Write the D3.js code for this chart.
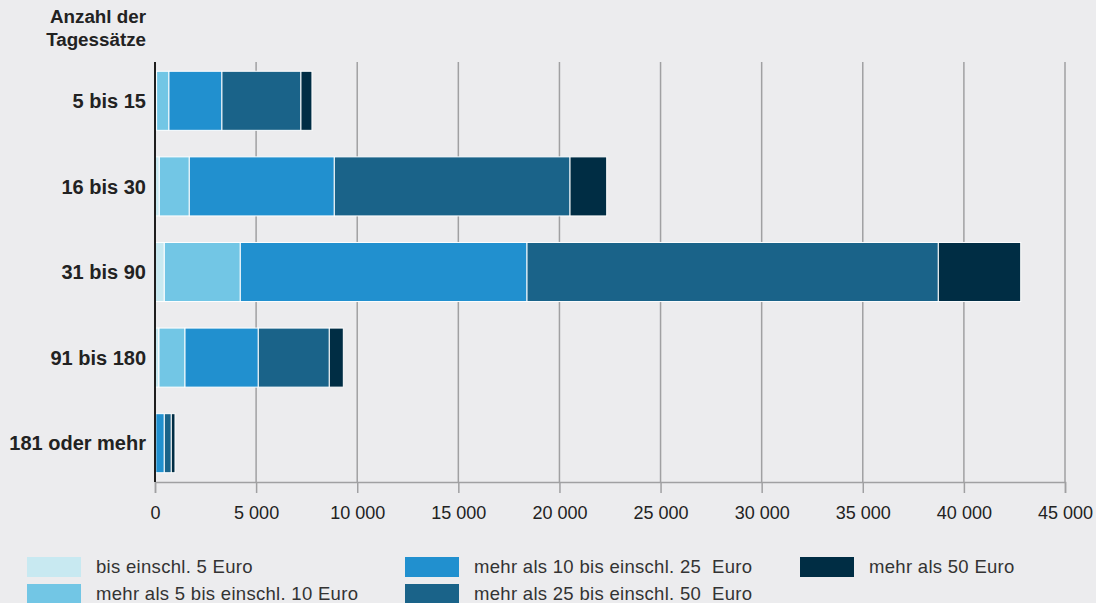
<!DOCTYPE html>
<html>
<head>
<meta charset="utf-8">
<script src="https://cdn.jsdelivr.net/npm/d3@7"></script>
<style>
  body { margin: 0; background: #ececee; }
  svg { display: block; font-family: "Liberation Sans", Arial, sans-serif; }
</style>
</head>
<body>
<div id="chart"></div>
<script>
//categories and series
var categories = ["5 bis 15", "16 bis 30", "31 bis 90", "91 bis 180", "181 oder mehr"];
var seriesNames = ["bis einschl. 5 Euro", "mehr als 5 bis einschl. 10 Euro", "mehr als 10 bis einschl. 25  Euro",
    "mehr als 25 bis einschl. 50  Euro", "mehr als 50 Euro"];
var bis5 = [80, 213, 460, 198, 10];
var bis10 = [610, 1483, 3758, 1286, 30];
var bis25 = [2620, 7171, 14178, 3624, 420];
var bis50 = [3907, 11656, 20340, 3512, 346];
var ueber50 = [544, 1814, 4074, 692, 183];
var tickValues = [0, 5000, 10000, 15000, 20000, 25000, 30000, 35000, 40000, 45000];
var colors = ["#c8e9f1", "#72c6e5", "#2190cf", "#1a6389", "#002d44"];

//svg dimensions
var svgWidth = 1096;
var svgHeight = 603;
var svg = d3.select("#chart").append("svg")
    .attr("width", svgWidth)
    .attr("height", svgHeight);

//build rows for stack
var keys = ["s0", "s1", "s2", "s3", "s4"];
var rows = categories.map(function (c, i) {
    return { cat: c, s0: bis5[i], s1: bis10[i], s2: bis25[i], s3: bis50[i], s4: ueber50[i] };
});
var stacked = d3.stack().keys(keys)(rows);

//scales
var xScale = d3.scaleLinear().domain([0, 45000]).range([155, 1065]);
var yScale = d3.scaleBand().domain(categories).range([58, 486])
    .paddingInner(0.31).paddingOuter(0.155);

//gridlines
svg.append("g").selectAll("line")
    .data(tickValues.slice(1))
    .enter()
    .append("line")
    .attr("x1", d => xScale(d))
    .attr("x2", d => xScale(d))
    .attr("y1", 62)
    .attr("y2", 482)
    .attr("stroke", "#a0a0a2")
    .attr("stroke-width", 1.5);

//bottom axis
var bottomAxis = d3.axisBottom(xScale)
    .tickValues(tickValues)
    .tickSize(11)
    .tickPadding(13)
    .tickFormat(d => d3.format(",")(d).replace(/,/g, " "));
var xAxis = svg.append("g")
    .attr("transform", "translate(0, 482)")
    .call(bottomAxis);
xAxis.select(".domain").attr("stroke", "#a0a0a2").attr("stroke-width", 1.5);
xAxis.selectAll(".tick line").attr("stroke", "#a0a0a2").attr("stroke-width", 1.5);
xAxis.selectAll(".tick text")
    .attr("fill", "#222")
    .attr("font-size", "18px")
    .attr("font-family", "Liberation Sans, Arial, sans-serif");

//bars
svg.append("g").selectAll("g")
    .data(stacked)
    .enter()
    .append("g")
    .attr("fill", (d, i) => colors[i])
    .selectAll("rect")
    .data(d => d)
    .enter()
    .append("rect")
    .attr("x", d => xScale(d[0]))
    .attr("y", d => yScale(d.data.cat))
    .attr("width", d => xScale(d[1]) - xScale(d[0]))
    .attr("height", yScale.bandwidth())
    .attr("stroke", "#ffffff")
    .attr("stroke-width", 1);

//left axis line
svg.append("line")
    .attr("x1", 155).attr("x2", 155)
    .attr("y1", 62).attr("y2", 482)
    .attr("stroke", "#1e1e1e")
    .attr("stroke-width", 2);

//category labels
svg.append("g").selectAll("text")
    .data(categories)
    .enter()
    .append("text")
    .attr("x", 146)
    .attr("y", d => yScale(d) + yScale.bandwidth() / 2)
    .attr("dy", "0.36em")
    .attr("text-anchor", "end")
    .attr("font-size", "20px")
    .attr("font-weight", "bold")
    .attr("fill", "#222")
    .text(d => d);

//header
var header = svg.append("text")
    .attr("text-anchor", "end")
    .attr("font-size", "18.8px")
    .attr("font-weight", "bold")
    .attr("fill", "#222");
header.append("tspan").attr("x", 146).attr("y", 23).text("Anzahl der");
header.append("tspan").attr("x", 146).attr("y", 46).text("Tagessätze");

//legend
var legendPos = [[27, 557], [27, 584], [405, 557], [405, 584], [800, 557]];
var legend = svg.append("g").selectAll("g")
    .data(seriesNames)
    .enter()
    .append("g")
    .attr("transform", (d, i) => `translate(${legendPos[i][0]}, ${legendPos[i][1]})`);
legend.append("rect")
    .attr("width", 54)
    .attr("height", 20)
    .attr("fill", (d, i) => colors[i]);
legend.append("text")
    .attr("x", 69)
    .attr("y", 16)
    .attr("font-size", "18.5px")
    .attr("letter-spacing", "0.3px")
    .attr("fill", "#333")
    .attr("xml:space", "preserve")
    .style("white-space", "pre")
    .text(d => d);
</script>
</body>
</html>
